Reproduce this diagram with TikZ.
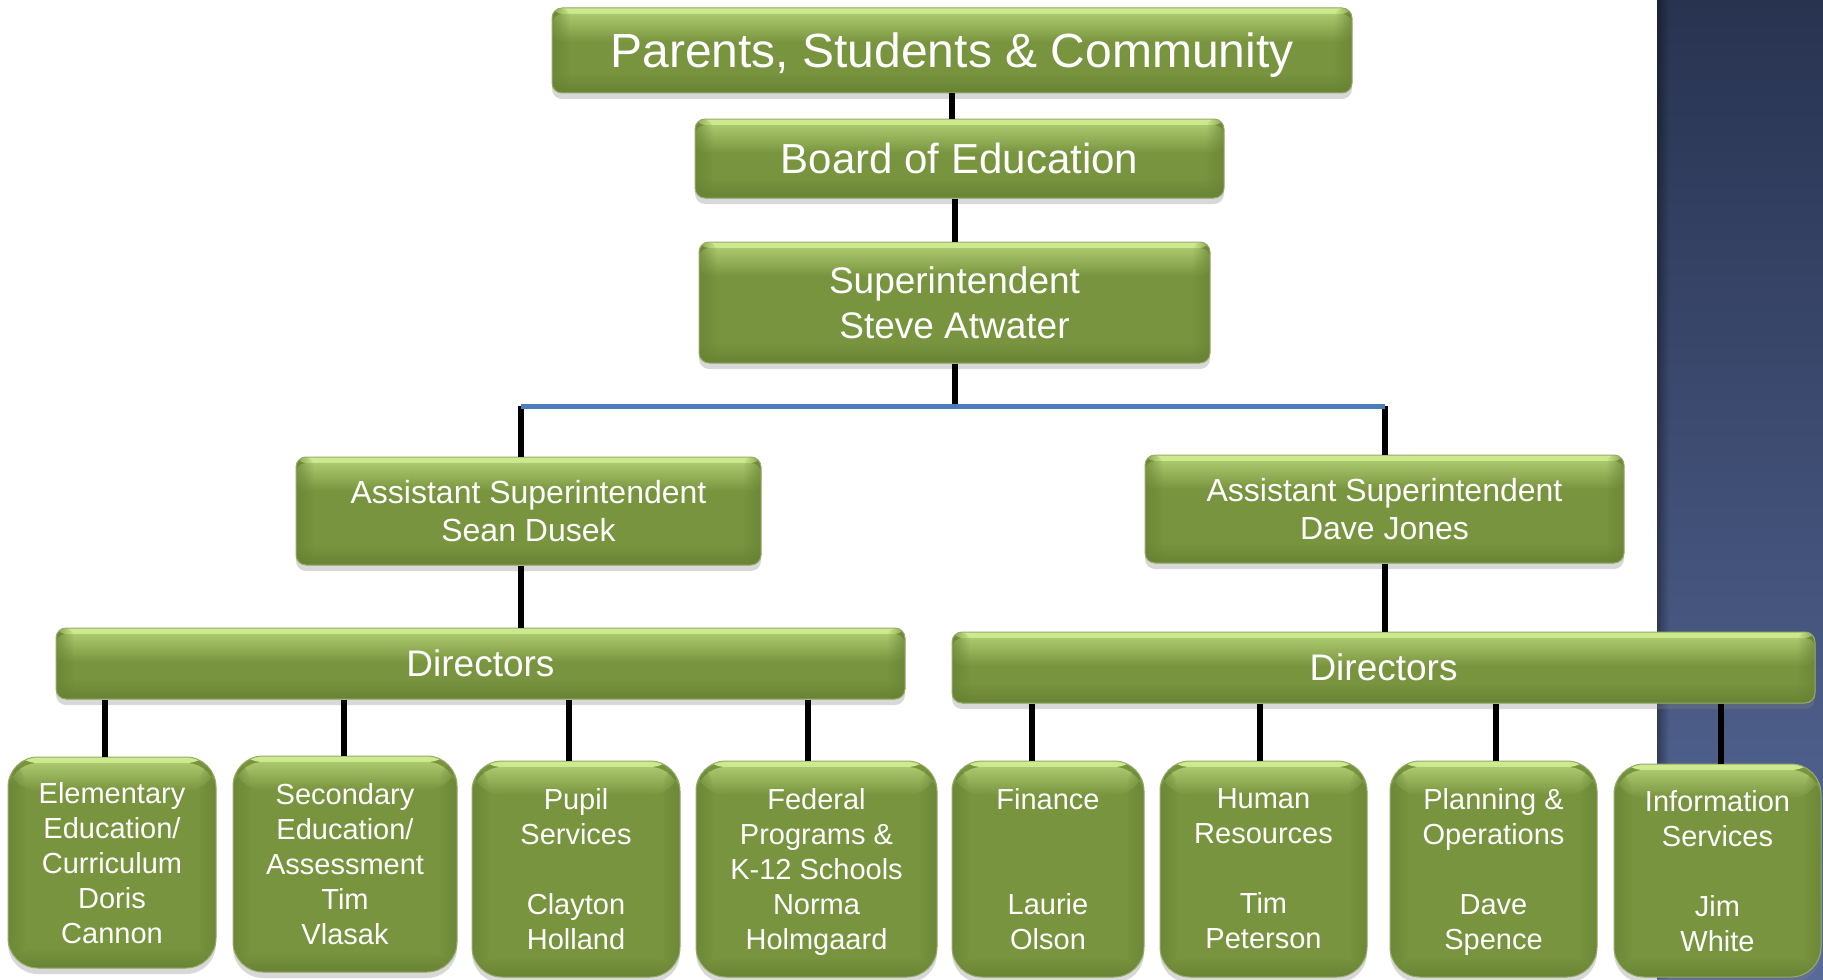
\documentclass[tikz,border=0pt]{standalone}
\usepackage{fontspec}
\setmainfont{Liberation Sans}
\usetikzlibrary{shadows,fadings}
\definecolor{gbody}{RGB}{120,148,62}
\definecolor{ghi}{RGB}{206,234,142}
\definecolor{gmid}{RGB}{172,200,110}
\definecolor{gdark}{RGB}{104,130,52}
\definecolor{gedge}{RGB}{150,172,108}
\definecolor{ptop}{RGB}{40,51,80}
\definecolor{pbot}{RGB}{88,106,154}
\definecolor{lblue}{RGB}{74,126,187}
\begin{document}
\begin{tikzpicture}[x=0.5pt,y=-0.5pt,
  gbox/.style={draw=gedge, line width=0.5pt, fill=gbody, text=white, inner sep=0pt, align=center, text depth=0pt,
    drop shadow={shadow xshift=0pt, shadow yshift=-3pt, opacity=0.3},
    path picture={
      \shade[top color=ghi, bottom color=gmid] (path picture bounding box.north west) rectangle ([yshift=-3pt]path picture bounding box.north east);
      \shade[top color=gmid, bottom color=gbody] ([yshift=-3pt]path picture bounding box.north west) rectangle ([yshift=-17pt]path picture bounding box.north east);
      \shade[top color=gbody, bottom color=gdark] ([yshift=10pt]path picture bounding box.south west) rectangle (path picture bounding box.south east);
      \fill[gdark, opacity=0.7, path fading=east] (path picture bounding box.north west) rectangle ([xshift=9pt]path picture bounding box.south west);
      \fill[gdark, opacity=0.7, path fading=west] (path picture bounding box.north east) rectangle ([xshift=-9pt]path picture bounding box.south east);
    }},
  wide/.style={gbox, rounded corners=5pt},
  tall/.style={gbox, rounded corners=15pt, font=\fontsize{14.5}{17.5}\selectfont},
  conn/.style={line width=3pt, black},
  bline/.style={line width=2.5pt, lblue}
]
\useasboundingbox (0,0) rectangle (1823,979);
\fill[white] (0,0) rectangle (1823,979);
% right panel
\shade[top color=ptop, bottom color=pbot] (1657,0) rectangle (1823,979);
\fill[black, opacity=0.35, path fading=east] (1657,0) rectangle (1669,979);

% top chain
\node[wide, minimum width=400pt, minimum height=42.5pt, font=\fontsize{24}{28}\selectfont] (ps) at (952,50.5) {Parents, Students \& Community};
\node[wide, minimum width=264.5pt, minimum height=39.5pt, font=\fontsize{21}{25}\selectfont] (board) at (959.5,158.5) {Board of Education};
\node[wide, minimum width=255.5pt, minimum height=60.5pt, font=\fontsize{18.5}{22.5}\selectfont] (sup) at (954.5,302.5) {Superintendent\\Steve Atwater};

% assistants
\node[wide, minimum width=232.5pt, minimum height=54pt, font=\fontsize{16}{19}\selectfont] (asL) at (528.5,511) {Assistant Superintendent\\Sean Dusek};
\node[wide, minimum width=239.5pt, minimum height=54pt, font=\fontsize{16}{19}\selectfont] (asR) at (1384.5,509) {Assistant Superintendent\\Dave Jones};

% directors bars
\node[wide, minimum width=424.5pt, minimum height=35.5pt, font=\fontsize{18.5}{22}\selectfont] (dirL) at (480.5,663.5) {Directors};
\node[wide, minimum width=431.5pt, minimum height=35.5pt, font=\fontsize{18.5}{22}\selectfont] (dirR) at (1383.5,667.5) {Directors};

% bottom boxes
\node[tall, minimum width=104pt, minimum height=105.5pt] (b1) at (112,862.5) {Elementary\\Education/\\Curriculum\\Doris\\Cannon};
\node[tall, minimum width=112pt, minimum height=108pt] (b2) at (345,864) {Secondary\\Education/\\Assessment\\Tim\\Vlasak};
\node[tall, minimum width=104pt, minimum height=108pt] (b3) at (576,869) {Pupil\\Services\\\mbox{}\\Clayton\\Holland};
\node[tall, minimum width=120.5pt, minimum height=108pt] (b4) at (816.5,869) {Federal\\Programs \&\\K-12 Schools\\Norma\\Holmgaard};
\node[tall, minimum width=96pt, minimum height=108pt] (b5) at (1048,869) {Finance\\\mbox{}\\\mbox{}\\Laurie\\Olson};
\node[tall, minimum width=103.5pt, minimum height=108pt] (b6) at (1263.5,869) {Human\\Resources\\\mbox{}\\Tim\\Peterson};
\node[tall, minimum width=103.5pt, minimum height=108pt] (b7) at (1493.5,869) {Planning \&\\Operations\\\mbox{}\\Dave\\Spence};
\node[tall, minimum width=103.5pt, minimum height=106.5pt] (b8) at (1717.5,870.5) {Information\\Services\\\mbox{}\\Jim\\White};

% connectors
\coordinate (bl) at (521,406);
\coordinate (br) at (1385,406);
\draw[conn] (ps.south) -- (ps.south |- board.north);
\draw[conn] (sup.north) -- (sup.north |- board.south);
\draw[conn] (sup.south) -- (sup.south |- bl);
\draw[conn] (bl) -- (bl |- asL.north);
\draw[conn] (br) -- (br |- asR.north);
\draw[bline] (bl) -- (br);
\draw[conn] (bl |- asL.south) -- (bl |- dirL.north);
\draw[conn] (br |- asR.south) -- (br |- dirR.north);

\draw[conn] ([xshift=-3.5pt]b1.north) -- ([xshift=-3.5pt]b1.north |- dirL.south);
\draw[conn] ([xshift=-0.5pt]b2.north) -- ([xshift=-0.5pt]b2.north |- dirL.south);
\draw[conn] ([xshift=-3.5pt]b3.north) -- ([xshift=-3.5pt]b3.north |- dirL.south);
\draw[conn] ([xshift=-4.25pt]b4.north) -- ([xshift=-4.25pt]b4.north |- dirL.south);
\draw[conn] ([xshift=-8pt]b5.north) -- ([xshift=-8pt]b5.north |- dirR.south);
\draw[conn] ([xshift=-1.75pt]b6.north) -- ([xshift=-1.75pt]b6.north |- dirR.south);
\draw[conn] ([xshift=1.25pt]b7.north) -- ([xshift=1.25pt]b7.north |- dirR.south);
\draw[conn] ([xshift=1.75pt]b8.north) -- ([xshift=1.75pt]b8.north |- dirR.south);
\end{tikzpicture}
\end{document}
